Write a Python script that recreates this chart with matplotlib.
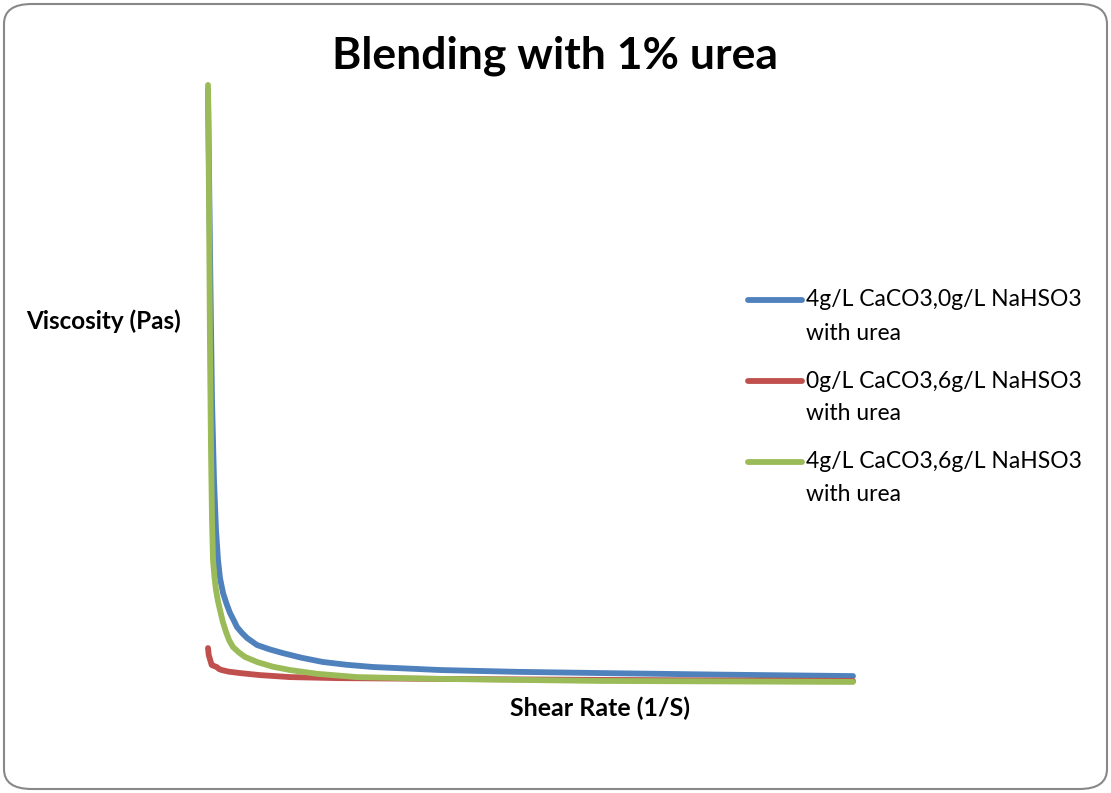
import matplotlib
matplotlib.use("Agg")
import matplotlib.pyplot as plt
from matplotlib.lines import Line2D
from matplotlib.patches import FancyBboxPatch

plt.rcParams['font.family'] = ['Lato', 'DejaVu Sans']

# series (shear rate in 1/S, viscosity in Pas, arbitrary scale)
blue_x = [0, 0.31, 0.62, 0.93, 1.24, 1.55, 1.86, 2.33, 2.9, 3.41, 4.0, 4.50, 5.3, 6.05, 7.60, 9.5, 11.6, 14.5, 17.8, 21.5, 25.6, 36.0, 48.0, 60.8, 80.0, 100]
blue_y = [29.75, 21.8, 14.4, 10.4, 7.93, 6.45, 5.55, 4.81, 4.25, 3.82, 3.45, 3.12, 2.82, 2.58, 2.23, 2.02, 1.83, 1.60, 1.39, 1.25, 1.14, 0.99, 0.90, 0.84, 0.76, 0.69]

red_x = [0, 0.11, 0.57, 0.93, 1.35, 1.71, 2.12, 3.2, 4.96, 8.0, 12.7, 20.0, 36.0, 60.8, 100]
red_y = [2.08, 1.74, 1.24, 1.19, 1.14, 1.04, 0.99, 0.91, 0.84, 0.74, 0.64, 0.59, 0.55, 0.50, 0.45]

green_x = [0, 0.155, 0.31, 0.465, 0.62, 0.775, 1.0, 1.24, 1.55, 1.86, 2.3, 2.79, 3.3, 3.88, 4.8, 5.74, 7.6, 10.0, 12.7, 17.0, 23.1, 36.0, 60.8, 100]
green_y = [30.0, 24.3, 16.9, 11.9, 8.43, 6.45, 5.6, 4.96, 4.40, 3.97, 3.38, 2.88, 2.45, 2.13, 1.86, 1.64, 1.39, 1.16, 0.99, 0.80, 0.64, 0.55, 0.45, 0.40]

labels = ["4g/L CaCO3,0g/L NaHSO3\nwith urea",
          "0g/L CaCO3,6g/L NaHSO3\nwith urea",
          "4g/L CaCO3,6g/L NaHSO3\nwith urea"]
colors = ["#4F81BD", "#C0504D", "#9BBB59"]

fig = plt.figure(figsize=(11.11, 7.93), dpi=100)
ax = fig.add_axes([208 / 1111, 103 / 793, 645 / 1111, 605 / 793])

series = [(blue_x, blue_y), (red_x, red_y), (green_x, green_y)]
for (xs, ys), c in zip(series, colors):
    ax.plot(xs, ys, color=c, lw=4.2, solid_capstyle='round', solid_joinstyle='round', clip_on=False)

ax.set_xlim(0, 100)
ax.set_ylim(0, 30)
ax.axis('off')

# titles / axis names
fig.text(555 / 1111, 1 - 56 / 793, "Blending with 1% urea", ha='center', va='center',
         fontsize=32, fontweight='bold')
fig.text(104 / 1111, 1 - 321 / 793, "Viscosity (Pas)", ha='center', va='center',
         fontsize=17.5, fontweight='bold')
fig.text(600 / 1111, 1 - 708 / 793, "Shear Rate (1/S)", ha='center', va='center',
         fontsize=18, fontweight='bold')

# legend, handle aligned with first text line
for i, (lab, c) in enumerate(zip(labels, colors)):
    ytop = 300 + i * 81
    fig.add_artist(Line2D([748 / 1111, 802 / 1111], [1 - ytop / 793] * 2,
                          color=c, lw=4.2, solid_capstyle='round'))
    first, second = lab.split("\n")
    fig.text(806 / 1111, 1 - ytop / 793, first, ha='left', va='center', fontsize=16.5)
    fig.text(806 / 1111, 1 - (ytop + 33) / 793, second, ha='left', va='center', fontsize=16.5)

# rounded chart border
fig.add_artist(FancyBboxPatch((4 / 1111, 4 / 793), 1103 / 1111, 785 / 793,
                              boxstyle="round,pad=0,rounding_size=0.025",
                              transform=fig.transFigure, fill=False,
                              edgecolor='#888888', lw=1.5))

fig.savefig("out.png", dpi=100)
